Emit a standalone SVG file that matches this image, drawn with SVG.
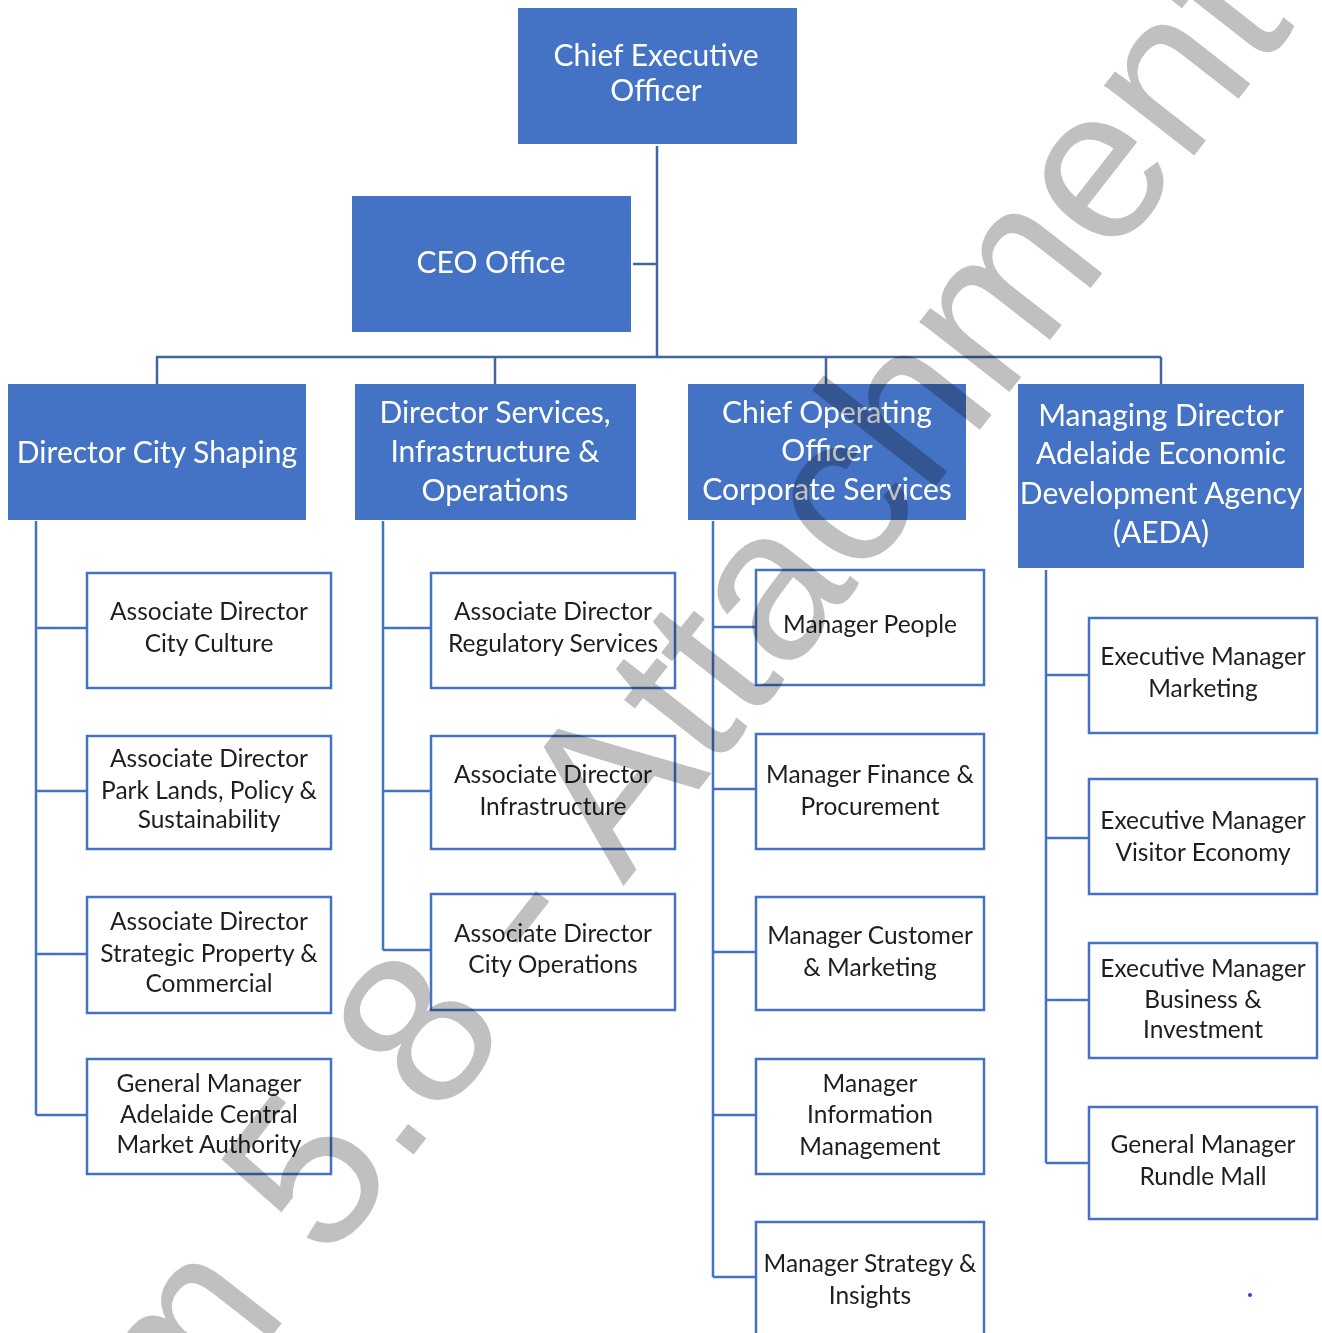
<svg xmlns="http://www.w3.org/2000/svg" width="1322" height="1333" viewBox="0 0 1322 1333">
<style>
.hdr{fill:#4472C4}
.box{fill:#fff;stroke:#4472C4;stroke-width:2.5}
.ht{font-family:Lato,"Liberation Sans",sans-serif;font-size:30px;fill:#fff;text-anchor:middle}
.ct{font-family:Lato,"Liberation Sans",sans-serif;font-size:24.5px;fill:#1e1e1e;text-anchor:middle}
.top{stroke:#42659F;stroke-width:2.5;fill:none}
.con{stroke:#4472C4;stroke-width:2.5;fill:none}
.wm{font-family:"Liberation Sans",Arial,sans-serif;font-size:216px;fill:#C0C0C0;mix-blend-mode:multiply}
</style>
<rect width="1322" height="1333" fill="#fff"/>
<g id="connectors">
<path class="top" d="M657 146V357M633 264H657M156 357H1161M157 357V384M495 357V384M826 357V384M1161 357V384"/>
<path class="con" d="M36 521V1115M36 628H87M36 791H87M36 954H87M36 1115H87"/>
<path class="con" d="M383 521V950M383 628H431M383 791H431M383 950H431"/>
<path class="con" d="M713 521V1277M713 627H756M713 789H756M713 952H756M713 1115H756M713 1277H756"/>
<path class="con" d="M1046 570V1163M1046 675H1089M1046 838H1089M1046 1000H1089M1046 1163H1089"/>
</g>
<g id="ceo"><rect class="hdr" x="518" y="8" width="279" height="136"/><text class="ht" x="656"><tspan x="656" y="66">Chief Executive</tspan><tspan x="656" y="101">Officer</tspan></text></g>
<g id="ceo-office"><rect class="hdr" x="352" y="196" width="279" height="136"/><text class="ht" x="491" y="273">CEO Office</text></g>
<g id="dir-city-shaping"><rect class="hdr" x="8" y="384" width="298" height="136"/><text class="ht" x="157" y="463">Director City Shaping</text></g>
<g id="dir-services"><rect class="hdr" x="355" y="384" width="281" height="136"/><text class="ht"><tspan x="495" y="423">Director Services,</tspan><tspan x="495" y="462">Infrastructure &amp;</tspan><tspan x="495" y="501">Operations</tspan></text></g>
<g id="coo"><rect class="hdr" x="688" y="384" width="278" height="136"/><text class="ht"><tspan x="827" y="423">Chief Operating</tspan><tspan x="827" y="461">Officer</tspan><tspan x="827" y="500">Corporate Services</tspan></text></g>
<g id="md-aeda"><rect class="hdr" x="1018" y="384" width="286" height="184"/><text class="ht"><tspan x="1161" y="426">Managing Director</tspan><tspan x="1161" y="464">Adelaide Economic</tspan><tspan x="1161" y="504">Development Agency</tspan><tspan x="1161" y="543">(AEDA)</tspan></text></g>

<g id="ad-city-culture"><rect class="box" x="87" y="573" width="244" height="115"/><text class="ct"><tspan x="209" y="620">Associate Director</tspan><tspan x="209" y="652">City Culture</tspan></text></g>
<g id="ad-park-lands"><rect class="box" x="87" y="736" width="244" height="113"/><text class="ct"><tspan x="209" y="767">Associate Director</tspan><tspan x="209" y="799">Park Lands, Policy &amp;</tspan><tspan x="209" y="828">Sustainability</tspan></text></g>
<g id="ad-strategic-property"><rect class="box" x="87" y="897" width="244" height="116"/><text class="ct"><tspan x="209" y="930">Associate Director</tspan><tspan x="209" y="962">Strategic Property &amp;</tspan><tspan x="209" y="992">Commercial</tspan></text></g>
<g id="gm-central-market"><rect class="box" x="87" y="1059" width="244" height="115"/><text class="ct"><tspan x="209" y="1092">General Manager</tspan><tspan x="209" y="1123">Adelaide Central</tspan><tspan x="209" y="1153">Market Authority</tspan></text></g>

<g id="ad-regulatory"><rect class="box" x="431" y="573" width="244" height="115"/><text class="ct"><tspan x="553" y="620">Associate Director</tspan><tspan x="553" y="652">Regulatory Services</tspan></text></g>
<g id="ad-infrastructure"><rect class="box" x="431" y="736" width="244" height="113"/><text class="ct"><tspan x="553" y="783">Associate Director</tspan><tspan x="553" y="815">Infrastructure</tspan></text></g>
<g id="ad-city-operations"><rect class="box" x="431" y="894" width="244" height="116"/><text class="ct"><tspan x="553" y="942">Associate Director</tspan><tspan x="553" y="973">City Operations</tspan></text></g>

<g id="mgr-people"><rect class="box" x="756" y="570" width="228" height="115"/><text class="ct" x="870" y="633">Manager People</text></g>
<g id="mgr-finance"><rect class="box" x="756" y="734" width="228" height="115"/><text class="ct"><tspan x="870" y="783">Manager Finance &amp;</tspan><tspan x="870" y="815">Procurement</tspan></text></g>
<g id="mgr-customer"><rect class="box" x="756" y="897" width="228" height="113"/><text class="ct"><tspan x="870" y="944">Manager Customer</tspan><tspan x="870" y="976">&amp; Marketing</tspan></text></g>
<g id="mgr-information"><rect class="box" x="756" y="1059" width="228" height="115"/><text class="ct"><tspan x="870" y="1092">Manager</tspan><tspan x="870" y="1123">Information</tspan><tspan x="870" y="1155">Management</tspan></text></g>
<g id="mgr-strategy"><rect class="box" x="756" y="1222" width="228" height="125"/><text class="ct"><tspan x="870" y="1272">Manager Strategy &amp;</tspan><tspan x="870" y="1304">Insights</tspan></text></g>

<g id="em-marketing"><rect class="box" x="1089" y="618" width="228" height="115"/><text class="ct"><tspan x="1203" y="665">Executive Manager</tspan><tspan x="1203" y="697">Marketing</tspan></text></g>
<g id="em-visitor"><rect class="box" x="1089" y="779" width="228" height="115"/><text class="ct"><tspan x="1203" y="829">Executive Manager</tspan><tspan x="1203" y="861">Visitor Economy</tspan></text></g>
<g id="em-business"><rect class="box" x="1089" y="943" width="228" height="115"/><text class="ct"><tspan x="1203" y="977">Executive Manager</tspan><tspan x="1203" y="1008">Business &amp;</tspan><tspan x="1203" y="1038">Investment</tspan></text></g>
<g id="gm-rundle"><rect class="box" x="1089" y="1107" width="228" height="112"/><text class="ct"><tspan x="1203" y="1153">General Manager</tspan><tspan x="1203" y="1185">Rundle Mall</tspan></text></g>

<circle cx="1250" cy="1295" r="2" fill="#3040d8"/>
<text class="wm" transform="translate(32,1643) rotate(-52)">Item 5.8 - Attachment</text>
</svg>
